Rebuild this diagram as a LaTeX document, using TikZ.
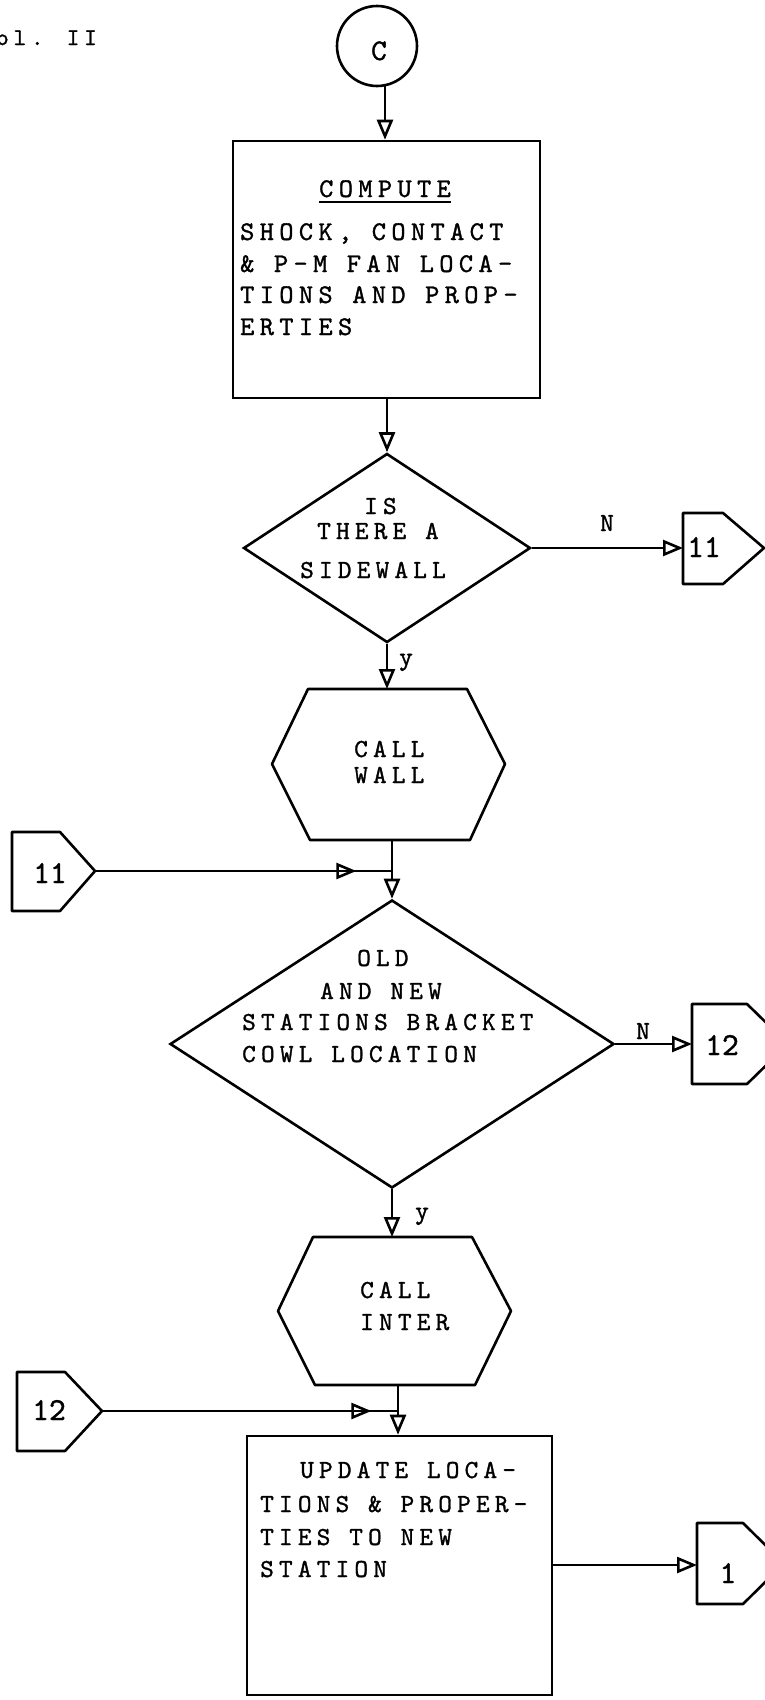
\documentclass[tikz,border=0pt]{standalone}
\usepackage{fontspec}
\usetikzlibrary{arrows.meta,shapes.geometric,decorations.markings,calc}
\newfontfamily\tw{lmmono10-regular.otf}[LetterSpace=20,FakeBold=1.2]
\newfontfamily\tn{lmmono10-regular.otf}[FakeBold=1.2]
\begin{document}
\begin{tikzpicture}[x=1pt,y=-1pt,
  ln/.style={line width=2.6pt,line join=round},
  arr/.style={ln,-{Triangle[open,length=20pt,width=16pt]}},
  midarr/.style={postaction={decorate},decoration={markings,mark=at position #1 with {\arrow{Triangle[open,length=20pt,width=16pt]}}}},
  shp/.style={draw,line width=2.6pt,inner sep=0pt},
  txt/.style={inner sep=0pt,anchor=base west,font={\tw\fontsize{26}{26}\selectfont}},
  ctxt/.style={inner sep=0pt,anchor=base west,font={\tw\fontsize{27}{27}\selectfont}},
  num/.style={inner sep=0pt,anchor=base,font={\tn\fontsize{32}{32}\selectfont}},
  lab/.style={inner sep=0pt,anchor=base west,font={\tn\fontsize{26}{26}\selectfont}}
]
\useasboundingbox (0,0) rectangle (764,1700);

% header
\node[txt,font={\tw\fontsize{24}{24}\selectfont}] (vol) at (-4,45) {ol. II};

% start circle
\node[shp,circle,minimum size=80pt] (c) at (377,46) {};
\node[num,font={\tn\fontsize{30}{30}\selectfont}] (ctext) at (379,60) {C};
\coordinate (cout) at (385,85.2);

% compute box
\node[shp,minimum width=307pt,minimum height=257pt] (comp) at (386.5,269.5) {};
\node[ctxt,anchor=base] (ct) at (385,197) {COMPUTE};
\draw[line width=2pt] ([yshift=-5pt]ct.base west) -- ([yshift=-5pt]ct.base east);
\node[ctxt] (cl1) at (240,240) {SHOCK, CONTACT};
\node[ctxt] (cl2) at (240,272) {\& P-M FAN LOCA-};
\node[ctxt] (cl3) at (240,303) {TIONS AND PROP-};
\node[ctxt] (cl4) at (240,335) {ERTIES};

% decision 1
\node[shp,diamond,minimum width=287pt,minimum height=189pt] (d1) at (387,548) {};
\node[txt] (d1a) at (364,514) {IS};
\node[txt] (d1b) at (317,539) {THERE A};
\node[txt] (d1c) at (300,578) {SIDEWALL};
\node[lab] (n1) at (600,531) {N};
\node[lab] (y1) at (399,665) {y};

% connector 11 (right)
\draw[ln] (683,513) -- (723,513) -- (764,548) -- (723,584) -- (683,584) -- cycle;
\coordinate (r11w) at (683,548);
\node[num] (r11t) at (704,557) {11};

% call wall hexagon
\draw[ln] (272,764) -- (308,689) -- (467,689) -- (505,764) -- (470,840) -- (310,840) -- cycle;
\coordinate (h1n) at (387,689);
\coordinate (h1s) at (392,840);
\node[txt] (h1a) at (354,757) {CALL};
\node[txt] (h1b) at (354,783) {WALL};

% connector 11 (left)
\draw[ln] (12,832) -- (60,832) -- (95,871) -- (60,911) -- (12,911) -- cycle;
\coordinate (l11e) at (95,871);
\node[num] (l11t) at (50,883) {11};
\coordinate (j1) at (392,871);

% decision 2
\node[shp,diamond,minimum width=444pt,minimum height=288pt] (d2) at (392,1044) {};
\node[txt] (d2a) at (357,966) {OLD};
\node[txt] (d2b) at (320,999) {AND NEW};
\node[txt] (d2c) at (242,1030) {STATIONS BRACKET};
\node[txt] (d2d) at (242,1062) {COWL LOCATION};
\node[lab] (n2) at (636,1039) {N};
\node[lab] (y2) at (415,1219) {y};

% connector 12 (right)
\draw[ln] (692,1004) -- (747,1004) -- (788,1044) -- (747,1084) -- (692,1084) -- cycle;
\coordinate (r12w) at (692,1044);
\node[num] (r12t) at (722,1055) {12};

% call inter hexagon
\draw[ln] (278,1311) -- (313,1237) -- (472,1237) -- (511,1311) -- (475,1385) -- (315,1385) -- cycle;
\coordinate (h2n) at (392,1237);
\coordinate (h2s) at (398,1385);
\node[txt] (h2a) at (360,1298) {CALL};
\node[txt] (h2b) at (360,1330) {INTER};

% connector 12 (left)
\draw[ln] (17,1372) -- (65,1372) -- (102,1411) -- (65,1451) -- (17,1451) -- cycle;
\coordinate (l12e) at (102,1411);
\node[num] (l12t) at (49,1420) {12};
\coordinate (j2) at (398,1411);

% update box
\node[shp,minimum width=305pt,minimum height=259pt] (upd) at (399.5,1565.5) {};
\node[txt] (u1) at (300,1478) {UPDATE LOCA-};
\node[txt] (u2) at (260,1512) {TIONS \& PROPER-};
\node[txt] (u3) at (260,1545) {TIES TO NEW};
\node[txt] (u4) at (260,1577) {STATION};

% connector 1 (right)
\draw[ln] (697,1523) -- (743,1523) -- (784,1563.5) -- (743,1604) -- (697,1604) -- cycle;
\coordinate (r1w) at (697,1565);
\node[num] (r1t) at (728,1583) {1};

% connectors
\draw[arr] (cout) -- (cout |- comp.north);
\draw[arr] (comp.south -| d1.north) -- (d1.north);
\draw[arr] (d1.east) -- (r11w);
\draw[arr] (d1.south) -- (h1n);
\draw[ln] (h1s) -- (j1);
\draw[arr] (j1) -- (d2.north);
\draw[ln,midarr=0.88] (l11e) -- (j1);
\draw[arr] (d2.east) -- (r12w);
\draw[arr] (d2.south) -- (h2n);
\draw[ln] (h2s) -- (j2);
\draw[arr] (j2) -- (j2 |- upd.north);
\draw[ln,midarr=0.91] (l12e) -- (j2);
\draw[arr] (upd.east |- r1w) -- (r1w);
\end{tikzpicture}
\end{document}
